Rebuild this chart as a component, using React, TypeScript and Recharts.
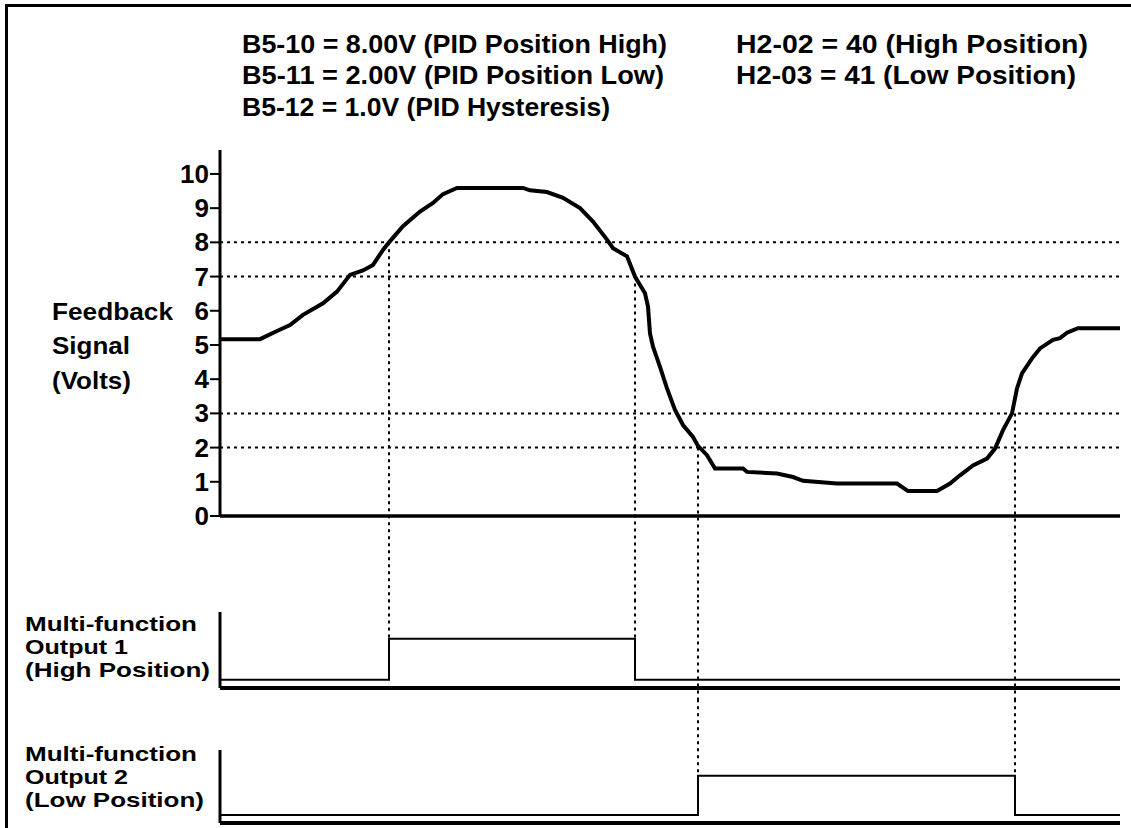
import React from 'react';
import { LineChart, Line, XAxis, YAxis, ReferenceLine } from 'recharts';

// feedback trace: time (arbitrary units, 0..900) and volts
const feedbackTime = [0, 40, 57, 70, 83, 103, 117, 130, 143, 153, 163, 169, 183, 200, 213, 223, 237, 303, 310, 327, 343, 360, 373, 387, 393, 407, 415, 417, 425, 428, 430, 433, 440, 447, 455, 463, 473, 478, 487, 495, 523, 527, 557, 573, 583, 617, 677, 688, 717, 730, 740, 753, 767, 775, 783, 792, 797, 802, 812, 820, 833, 840, 847, 858, 900];
const feedbackVolts = [5.17, 5.17, 5.41, 5.58, 5.88, 6.22, 6.56, 7.05, 7.18, 7.34, 7.78, 8.0, 8.47, 8.9, 9.15, 9.41, 9.59, 9.59, 9.52, 9.47, 9.3, 9.0, 8.61, 8.08, 7.83, 7.59, 7.0, 6.9, 6.51, 6.12, 5.34, 4.95, 4.36, 3.73, 3.1, 2.66, 2.31, 2.05, 1.78, 1.39, 1.39, 1.29, 1.24, 1.14, 1.03, 0.95, 0.95, 0.73, 0.73, 0.95, 1.19, 1.48, 1.68, 1.97, 2.51, 3.0, 3.73, 4.17, 4.61, 4.9, 5.15, 5.2, 5.36, 5.49, 5.49];

const voltTicks = [0, 1, 2, 3, 4, 5, 6, 7, 8, 9, 10];
const thresholdLevels = [8, 7, 3, 2];

// switching events: when the trace crosses a threshold
const switchTimes = [169, 415, 478, 795];
const switchLevels = [8, 7, 2, 3];

const output1Time = [0, 169, 415, 900];
const output1Level = [0, 1, 0, 0];
const output2Time = [0, 478, 795, 900];
const output2Level = [0, 1, 0, 0];

const settingsLeft = [
  'B5-10 = 8.00V (PID Position High)',
  'B5-11 = 2.00V (PID Position Low)',
  'B5-12 = 1.0V (PID Hysteresis)',
];
const settingsRight = ['H2-02 = 40 (High Position)', 'H2-03 = 41 (Low Position)'];
const feedbackLabel = ['Feedback', 'Signal', '(Volts)'];
const output1Label = ['Multi-function', 'Output 1', '(High Position)'];
const output2Label = ['Multi-function', 'Output 2', '(Low Position)'];

const FONT = "'Liberation Sans', Arial, sans-serif";
const DOTS = '3 4';

const mainData = feedbackTime.map((t, i) => ({ t, v: feedbackVolts[i] }));
const out1Data = output1Time.map((t, i) => ({ t, v: output1Level[i] }));
const out2Data = output2Time.map((t, i) => ({ t, v: output2Level[i] }));

const VoltTick = (props: any) => {
  const { x, y, payload } = props;
  return (
    <text x={x} y={y} dy={9} textAnchor="end" fontFamily={FONT} fontWeight="bold" fontSize={26} fill="#000">
      {payload.value}
    </text>
  );
};

const Txt = ({ x, y, w, size = 26, children }: { x: number; y: number; w: number; size?: number; children: string }) => (
  <text x={x} y={y} textLength={w} lengthAdjust="spacingAndGlyphs" fontFamily={FONT} fontWeight="bold" fontSize={size} fill="#000">
    {children}
  </text>
);

const dotted = { stroke: '#000', strokeWidth: 2, strokeDasharray: DOTS };

export default function App() {
  return (
    <div style={{ position: 'absolute', left: 0, top: 0, width: 1131, height: 828, background: '#fff', overflow: 'hidden' }}>
      <svg width={1131} height={828} style={{ position: 'absolute', left: 0, top: 0 }}>
        <line x1={6.5} y1={4} x2={6.5} y2={828} stroke="#000" strokeWidth={3} />
        <line x1={5} y1={5.5} x2={1131} y2={5.5} stroke="#000" strokeWidth={3} />
        <Txt x={242} y={53} w={425}>{settingsLeft[0]}</Txt>
        <Txt x={242} y={84} w={422}>{settingsLeft[1]}</Txt>
        <Txt x={242} y={116} w={368}>{settingsLeft[2]}</Txt>
        <Txt x={736} y={53} w={352}>{settingsRight[0]}</Txt>
        <Txt x={736} y={84} w={340}>{settingsRight[1]}</Txt>
        <Txt x={52} y={320} w={121} size={24}>{feedbackLabel[0]}</Txt>
        <Txt x={52} y={354} w={78} size={24}>{feedbackLabel[1]}</Txt>
        <Txt x={52} y={389} w={79} size={24}>{feedbackLabel[2]}</Txt>
        <Txt x={25} y={631} w={172} size={21}>{output1Label[0]}</Txt>
        <Txt x={25} y={654} w={103} size={21}>{output1Label[1]}</Txt>
        <Txt x={25} y={677} w={185} size={21}>{output1Label[2]}</Txt>
        <Txt x={25} y={761} w={172} size={21}>{output2Label[0]}</Txt>
        <Txt x={25} y={784} w={103} size={21}>{output2Label[1]}</Txt>
        <Txt x={25} y={807} w={179} size={21}>{output2Label[2]}</Txt>
      </svg>

      <div style={{ position: 'absolute', left: 0, top: 0 }}>
        <LineChart width={1131} height={600} data={mainData} margin={{ top: 150, right: 11, bottom: 83, left: 0 }}>
          <XAxis type="number" dataKey="t" domain={[0, 900]} allowDataOverflow height={1} tick={false} tickLine={false} axisLine={{ stroke: '#000', strokeWidth: 3.5 }} />
          <YAxis
            type="number"
            domain={[0, 10.7]}
            allowDataOverflow
            ticks={voltTicks}
            interval={0}
            width={220}
            tickSize={10}
            tickMargin={1}
            tick={<VoltTick />}
            tickLine={{ stroke: '#000', strokeWidth: 2 }}
            axisLine={{ stroke: '#000', strokeWidth: 3 }}
          />
          {thresholdLevels.map((v) => (
            <ReferenceLine key={'h' + v} y={v} {...dotted} />
          ))}
          {switchTimes.map((t, i) => (
            <ReferenceLine
              key={'v' + t}
              segment={[{ x: t, y: switchLevels[i] }, { x: t, y: -6 }]}
              ifOverflow="visible"
              {...dotted}
            />
          ))}
          <Line type="linear" dataKey="v" stroke="#000" strokeWidth={4} dot={false} isAnimationActive={false} />
        </LineChart>
      </div>

      <div style={{ position: 'absolute', left: 0, top: 600 }}>
        <LineChart width={1131} height={100} data={out1Data} margin={{ top: 12, right: 11, bottom: 11, left: 0 }}>
          <XAxis type="number" dataKey="t" domain={[0, 900]} allowDataOverflow height={1} tick={false} tickLine={false} axisLine={{ stroke: '#000', strokeWidth: 4 }} />
          <YAxis type="number" domain={[-0.2, 1.65]} allowDataOverflow width={220} tick={false} tickLine={false} axisLine={{ stroke: '#000', strokeWidth: 3 }} />
          {switchTimes.map((t, i) => (
            <ReferenceLine
              key={'o1' + t}
              segment={[{ x: t, y: 4 }, { x: t, y: i < 2 ? 1 : -4 }]}
              ifOverflow="visible"
              {...dotted}
            />
          ))}
          <Line type="stepAfter" dataKey="v" stroke="#000" strokeWidth={2} dot={false} isAnimationActive={false} />
        </LineChart>
      </div>

      <div style={{ position: 'absolute', left: 0, top: 700 }}>
        <LineChart width={1131} height={128} data={out2Data} margin={{ top: 50, right: 11, bottom: 4, left: 0 }}>
          <XAxis type="number" dataKey="t" domain={[0, 900]} allowDataOverflow height={1} tick={false} tickLine={false} axisLine={{ stroke: '#000', strokeWidth: 4 }} />
          <YAxis type="number" domain={[-0.2, 1.65]} allowDataOverflow width={220} tick={false} tickLine={false} axisLine={{ stroke: '#000', strokeWidth: 3 }} />
          {switchTimes.slice(2).map((t) => (
            <ReferenceLine key={'o2' + t} segment={[{ x: t, y: 4 }, { x: t, y: 1 }]} ifOverflow="visible" {...dotted} />
          ))}
          <Line type="stepAfter" dataKey="v" stroke="#000" strokeWidth={2} dot={false} isAnimationActive={false} />
        </LineChart>
      </div>
    </div>
  );
}
